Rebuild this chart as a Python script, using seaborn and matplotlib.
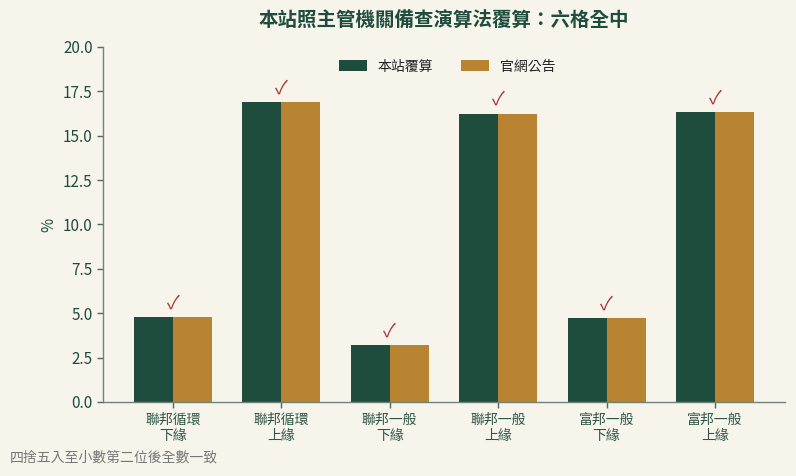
import numpy as np
import pandas as pd
import matplotlib
matplotlib.use('Agg')
import matplotlib.pyplot as plt
import seaborn as sns

# data
categories = ['聯邦循環\n下緣', '聯邦循環\n上緣', '聯邦一般\n下緣', '聯邦一般\n上緣', '富邦一般\n下緣', '富邦一般\n上緣']
site_calc = [4.78, 16.91, 3.20, 16.25, 4.74, 16.35]
official = [4.78, 16.91, 3.20, 16.25, 4.74, 16.35]
series_names = ['本站覆算', '官網公告']

BG = '#F7F4EC'
GREEN = '#1F4D3D'
GOLD = '#B88431'
RED = '#A8383A'

sns.set_theme(style='white')
plt.rcParams['font.family'] = ['Noto Sans CJK TC', 'DejaVu Sans']

df = pd.DataFrame({
    'cat': categories * 2,
    'series': [series_names[0]] * len(categories) + [series_names[1]] * len(categories),
    'val': site_calc + official,
})

fig = plt.figure(figsize=(7.96, 4.76), dpi=100, facecolor=BG)
ax = fig.add_axes([0.1294, 0.1555, 0.8566, 0.7458])
ax.set_facecolor(BG)

sns.barplot(data=df, x='cat', y='val', hue='series', hue_order=series_names,
            palette=[GREEN, GOLD], width=0.72, gap=0, saturation=1,
            edgecolor='none', linewidth=0, ax=ax)

# check marks above each pair
for i, (a, b) in enumerate(zip(site_calc, official)):
    ax.text(i, max(a, b) + 0.2, '✓', ha='center', va='bottom', color=RED,
            fontsize=13.5, family=['Noto Sans CJK TC', 'DejaVu Sans'])

ax.set_ylim(0, 20)
ax.set_yticks(np.arange(0, 20.1, 2.5))
ax.set_yticklabels([f'{v:.1f}' for v in np.arange(0, 20.1, 2.5)])
ax.set_xlim(-0.645, len(categories) - 1 + 0.645)
ax.set_xlabel('')
ax.set_ylabel('%', color=GREEN, fontsize=11)

for s in ['top', 'right']:
    ax.spines[s].set_visible(False)
for s in ['left', 'bottom']:
    ax.spines[s].set_color('#6E8479')
    ax.spines[s].set_linewidth(1.0)
ax.tick_params(axis='both', which='both', direction='out', length=4, width=1,
               color='#4E6A5E', left=True, bottom=True)
ax.tick_params(axis='y', labelsize=11, labelcolor=GREEN)
ax.tick_params(axis='x', labelsize=10, labelcolor='#2E5646')
for lab in ax.get_xticklabels():
    lab.set_linespacing(1.25)

leg = ax.legend(loc='upper center', bbox_to_anchor=(0.505, 1.0), ncol=2, frameon=False,
                fontsize=10, handlelength=2.0, handleheight=0.9, columnspacing=2.0,
                handletextpad=0.8)
for t in leg.get_texts():
    t.set_color('#222222')

fig.text(0.5578, 0.955, '本站照主管機關備查演算法覆算：六格全中', ha='center', va='center',
         fontsize=14, fontweight='bold', color=GREEN)
fig.text(0.0126, 0.038, '四捨五入至小數第二位後全數一致', ha='left', va='center',
         fontsize=10, color='#777777')

fig.savefig('out.png', dpi=100, facecolor=BG)
